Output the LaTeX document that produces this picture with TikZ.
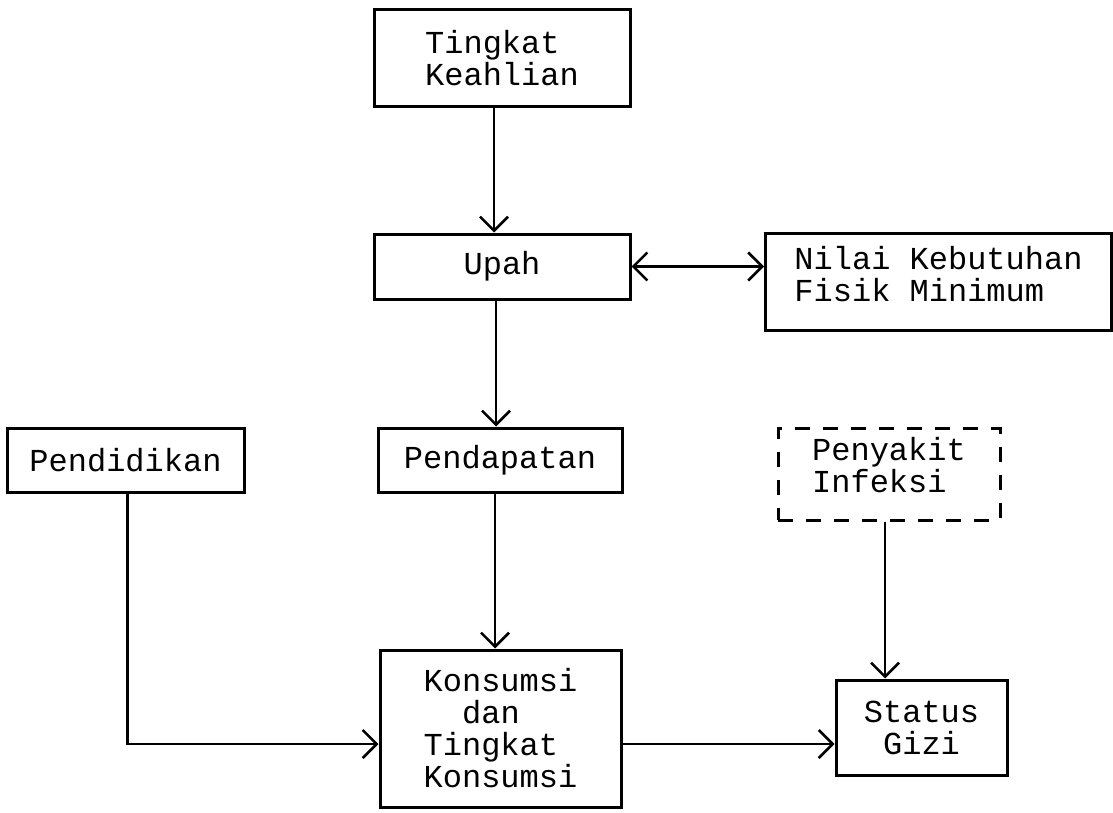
\documentclass[tikz,border=0pt]{standalone}
\usepackage{fontspec}
\setmonofont{Liberation Mono}
\usetikzlibrary{arrows.meta}
\newcommand\padbelow[1]{\rule[-#1]{0pt}{#1}}
\tikzset{
  box/.style={draw, line width=3pt, inner sep=0pt, align=left,
    font=\ttfamily\fontsize{32}{32}\selectfont},
  dbox/.style={box, dash pattern=on 15pt off 13pt},
  barb/.tip={Straight Barb[length=14pt,width=28pt,line width=2.5pt]},
  arr/.style={line width=2.6pt, -barb},
  darr/.style={line width=2.6pt, barb-barb}
}
\begin{document}
\begin{tikzpicture}[x=1pt,y=-1pt]
\useasboundingbox[fill=white] (0,0) rectangle (1113,813);
\node[box, minimum width=256pt, minimum height=97pt] (tk) at (502,58.5) {Tingkat\\Keahlian};
\node[box, minimum width=256pt, minimum height=65pt] (upah) at (502,266.5) {Upah};
\node[box, minimum width=346pt, minimum height=97pt] (nilai) at (938.5,281.5) {Nilai Kebutuhan\\Fisik Minimum\padbelow{16pt}};
\node[box, minimum width=237pt, minimum height=64pt] (pend) at (125.5,460) {Pendidikan};
\node[box, minimum width=244pt, minimum height=64pt] (pdpt) at (500,460) {Pendapatan};
\node[dbox, minimum width=222pt, minimum height=92pt] (peny) at (889,474) {Penyakit\\Infeksi\padbelow{18pt}};
\node[box, minimum width=241pt, minimum height=157pt] (kons) at (500.5,728.5) {Konsumsi\\\phantom{Ko}dan\\Tingkat\\Konsumsi};
\node[box, minimum width=171pt, minimum height=95pt, align=center] (stat) at (921.5,727.5) {Status\\Gizi};

\draw[arr] ([xshift=-8pt]tk.south) -- ([xshift=-8pt]upah.north);
\draw[arr] ([xshift=-6pt]upah.south) -- ([xshift=-6pt]upah.south |- pdpt.north);
\draw[darr] (upah.east) -- (upah.east -| nilai.west);
\draw[arr] ([xshift=-5pt]pdpt.south) -- ([xshift=-5pt]pdpt.south |- kons.north);
\draw[arr] ([xshift=2pt]pend.south) |- ([yshift=-15.5pt]kons.west);
\draw[arr] ([yshift=-15.5pt]kons.east) -- ([yshift=-15.5pt]kons.east -| stat.west);
\draw[arr] ([xshift=-4pt]peny.south) -- ([xshift=-4pt]peny.south |- stat.north);
\end{tikzpicture}
\end{document}
